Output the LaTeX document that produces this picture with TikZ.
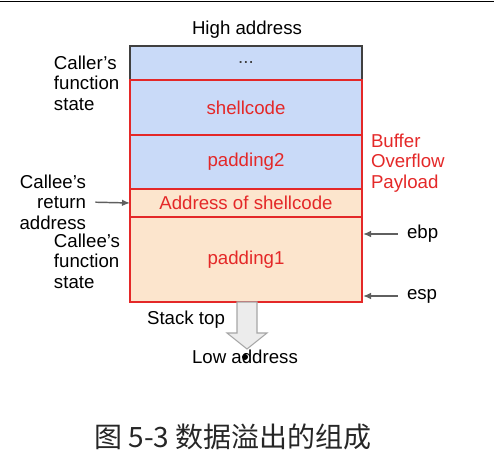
\documentclass[tikz,border=0pt]{standalone}
\usepackage{fontspec}
\setmainfont{Liberation Sans}
\newfontfamily\cjkfont{Noto Sans CJK SC}
\usetikzlibrary{positioning,arrows.meta}
\definecolor{stackblue}{RGB}{201,218,248}
\definecolor{stackpeach}{RGB}{252,229,205}
\definecolor{bufred}{RGB}{228,40,40}
\definecolor{ptrgray}{RGB}{95,95,95}

\begin{document}
\begin{tikzpicture}[x=0.75pt, y=-0.75pt,
            every node/.style={font=\fontsize{14}{15.5}\selectfont, inner sep=0pt, outer sep=0pt},
            cell/.style={draw=bufred, line width=1.1pt, minimum width=174pt, text=bufred},
            ptr/.style={draw=ptrgray, line width=1.1pt, -{Latex[length=6pt,width=5pt]}, shorten <=7pt},
            % bigarrow/.style = {draw=gray!70, fill=gray!15},
            ]
            \useasboundingbox (0,0) rectangle (494,456);
            \draw[line width=1.1pt] (0,1.5) -- (494,1.5);

            \node[cell, draw=black!75, text=black!75, fill=stackblue, minimum height=25.5pt, anchor=north west] (dots) at (130,46) {...};
            \node[cell, fill=stackblue, minimum height=41.25pt, below=0pt of dots] (shellcode) {shellcode};
            \node[cell, fill=stackblue, minimum height=40.5pt, below=0pt of shellcode] (padtwo) {padding2};
            \node[cell, fill=stackpeach, minimum height=21pt, below=0pt of padtwo] (retaddr) {Address of shellcode};
            \node[cell, fill=stackpeach, minimum height=63.75pt, below=0pt of retaddr] (padone) {padding1};

            \node (high) at (247,30) {High address};
            \node[align=left, anchor=west] (caller) at (54,83) {Caller's\\function\\state};
            \node[align=right, anchor=east] (retlbl) at (86,202) {Callee's\\return\\address};
            \node[align=left, anchor=west] (callee) at (54,261) {Callee's\\function\\state};
            \node[align=left, anchor=west, text=bufred] (payload) at (371,163) {Buffer\\Overflow\\Payload};
            \node[anchor=west] (ebp) at (407,234) {ebp};
            \node[anchor=west] (esp) at (407,296) {esp};

            \coordinate (ebpin) at (363,234);
            \coordinate (espin) at (363,296);
            \draw[ptr] (retlbl.east) -- (retaddr.west);
            \draw[ptr] (ebp.west) -- (ebpin);
            \draw[ptr] (esp.west) -- (espin);

            \draw[draw=gray!70, fill=gray!15, line width=0.8pt] (237,302) -- (237,333) -- (227,333)
                -- (247,349) -- (267,333) -- (257,333) -- (257,302) -- cycle;
            \node (stacktop) at (186,320) {Stack top};
            \node (low) at (245,357) {Low address};
            \fill (245,357) circle (3);

            \node[font=\cjkfont\fontsize{21}{24}\selectfont, text=black!85] (caption) at (233,437) {图 5-3 数据溢出的组成};
\end{tikzpicture}
\end{document}
